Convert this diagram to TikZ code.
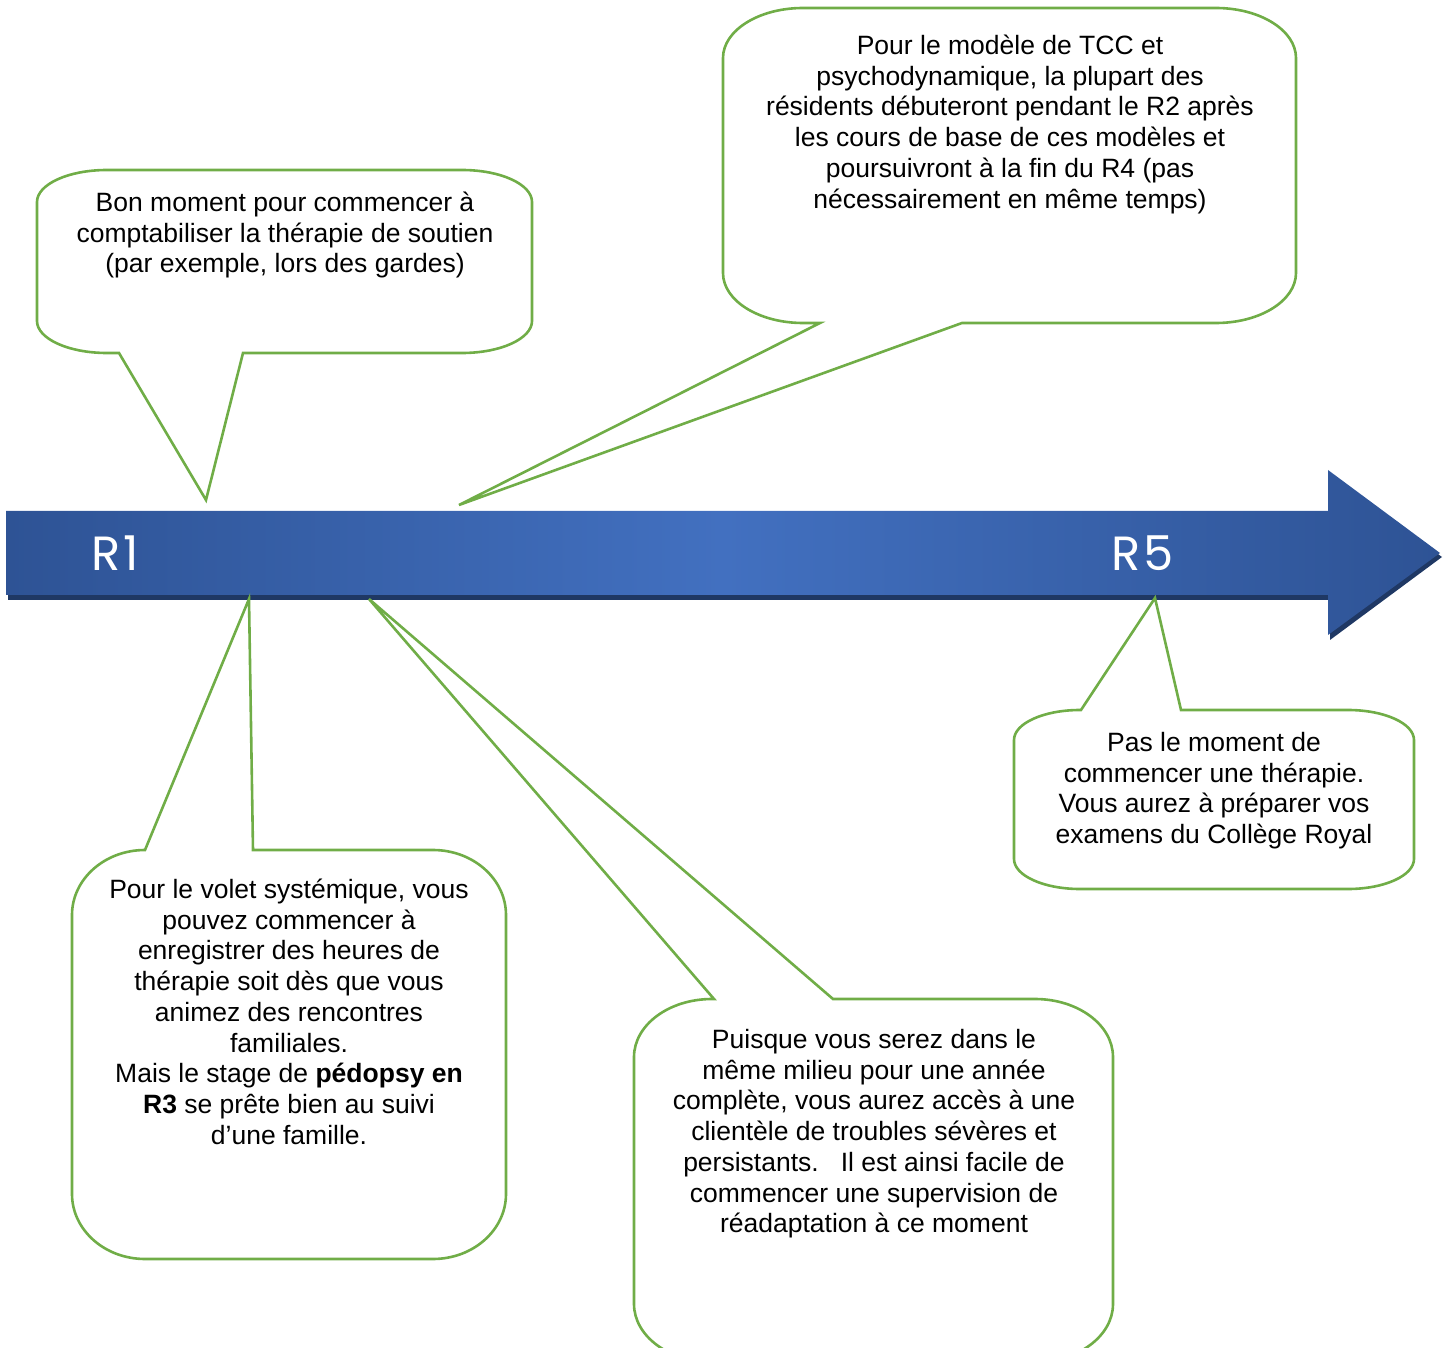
\documentclass[tikz,border=0pt]{standalone}
\usepackage{fontspec}
\setmainfont{Liberation Sans}
\newfontfamily\rfont[LetterSpace=6]{Poppins}
\definecolor{cgreen}{HTML}{70AD47}
\definecolor{adark}{HTML}{2E5395}
\definecolor{alight}{HTML}{4270C0}
\definecolor{ashadow}{HTML}{1F3864}
\tikzset{
  callout/.style={draw=cgreen, line width=1.3pt, line join=miter},
  ctext/.style={anchor=north, inner sep=0pt, align=center, text=black,
    font=\fontsize{13.25}{15.375}\selectfont},
  rlabel/.style={text=white, inner sep=0pt, font=\rfont\fontsize{24}{24}\selectfont}
}
% callout with tail on the bottom edge: L T R B rx ry baseLeft tip baseRight
\newcommand\calloutB[9]{%
  \draw[callout] (#7) -- (#8) -- (#9) -- ({#3-#5},#4)
    .. controls ({#3-0.4477*#5},#4) and (#3,{#4-0.4477*#6}) .. (#3,{#4-#6})
    -- (#3,{#2+#6})
    .. controls (#3,{#2+0.4477*#6}) and ({#3-0.4477*#5},#2) .. ({#3-#5},#2)
    -- ({#1+#5},#2)
    .. controls ({#1+0.4477*#5},#2) and (#1,{#2+0.4477*#6}) .. (#1,{#2+#6})
    -- (#1,{#4-#6})
    .. controls (#1,{#4-0.4477*#6}) and ({#1+0.4477*#5},#4) .. ({#1+#5},#4)
    -- cycle;}
% callout with tail on the top edge
\newcommand\calloutT[9]{%
  \draw[callout] (#7) -- (#8) -- (#9) -- ({#3-#5},#2)
    .. controls ({#3-0.4477*#5},#2) and (#3,{#2+0.4477*#6}) .. (#3,{#2+#6})
    -- (#3,{#4-#6})
    .. controls (#3,{#4-0.4477*#6}) and ({#3-0.4477*#5},#4) .. ({#3-#5},#4)
    -- ({#1+#5},#4)
    .. controls ({#1+0.4477*#5},#4) and (#1,{#4-0.4477*#6}) .. (#1,{#4-#6})
    -- (#1,{#2+#6})
    .. controls (#1,{#2+0.4477*#6}) and ({#1+0.4477*#5},#2) .. ({#1+#5},#2)
    -- cycle;}
\begin{document}
\begin{tikzpicture}[x=0.5pt,y=-0.5pt]
\useasboundingbox (0,0) rectangle (1448,1348);
\clip (0,0) rectangle (1448,1348);
% timeline arrow
\fill[ashadow] (8,515) -- (1330,515) -- (1330,475) -- (1442,557) -- (1330,640) -- (1330,600) -- (8,600) -- cycle;
\shade[left color=adark, right color=adark, middle color=alight]
  (6,511) -- (1328,511) -- (1328,470) -- (1440,553) -- (1328,635) -- (1328,595) -- (6,595) -- cycle;
\node[rlabel] (r1) at (115,553) {R1};
\node[rlabel] (r5) at (1143,553) {R5};
% tail coordinates
\coordinate (b1l) at (119,353); \coordinate (t1) at (206,500); \coordinate (b1r) at (243,353);
\coordinate (b2l) at (820,323); \coordinate (t2) at (459,505); \coordinate (b2r) at (962,323);
\coordinate (b3l) at (145,850); \coordinate (t3) at (249,599); \coordinate (b3r) at (253,850);
\coordinate (b4l) at (714,999); \coordinate (t4) at (369,599); \coordinate (b4r) at (833,999);
\coordinate (b5l) at (1081,710); \coordinate (t5) at (1155,598); \coordinate (b5r) at (1181,710);
% callouts
\calloutB{37}{170}{532}{353}{70}{32}{b1l}{t1}{b1r}
\calloutB{723}{8}{1296}{323}{80}{50}{b2l}{t2}{b2r}
\calloutT{72}{850}{506}{1259}{73}{65}{b3l}{t3}{b3r}
\calloutT{634}{999}{1113}{1362}{78}{58}{b4l}{t4}{b4r}
\calloutT{1014}{710}{1414}{889}{66}{30}{b5l}{t5}{b5r}
% texts
\node[ctext] (c1) at (285,189.5) {\strut Bon moment pour commencer à\\comptabiliser la thérapie de soutien\\(par exemple, lors des gardes)};
\node[ctext] (c2) at (1010,32.5) {\strut Pour le modèle de TCC et\\psychodynamique, la plupart des\\résidents débuteront pendant le R2 après\\les cours de base de ces modèles et\\poursuivront à la fin du R4 (pas\\nécessairement en même temps)};
\node[ctext] (c3) at (289,876.5) {\strut Pour le volet systémique, vous\\pouvez commencer à\\enregistrer des heures de\\thérapie soit dès que vous\\animez des rencontres\\familiales.\\Mais le stage de \textbf{pédopsy en}\\\textbf{R3} se prête bien au suivi\\d’une famille.};
\node[ctext] (c4) at (874,1026.5) {\strut Puisque vous serez dans le\\même milieu pour une année\\complète, vous aurez accès à une\\clientèle de troubles sévères et\\persistants.\ \ \ Il est ainsi facile de\\commencer une supervision de\\réadaptation à ce moment};
\node[ctext] (c5) at (1214,729.5) {\strut Pas le moment de\\commencer une thérapie.\\Vous aurez à préparer vos\\examens du Collège Royal};
\end{tikzpicture}
\end{document}
